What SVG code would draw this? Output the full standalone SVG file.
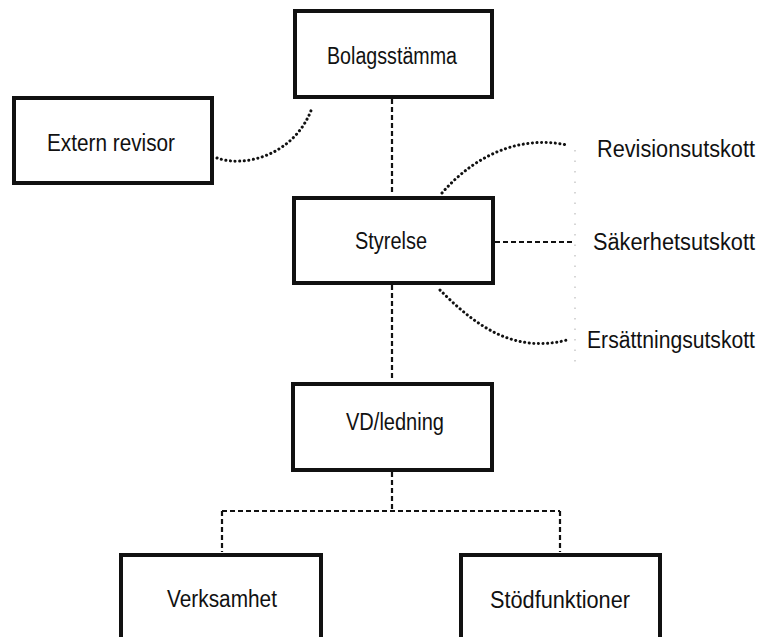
<svg xmlns="http://www.w3.org/2000/svg" width="765" height="637" viewBox="0 0 765 637">
<style>
  .box rect { fill: #fff; stroke: #111; stroke-width: 4; }
  text { font-family: "Liberation Sans", "DejaVu Sans", sans-serif; font-size: 23px; fill: #111; }
  .dash { fill: none; stroke: #111; stroke-width: 2.2; stroke-dasharray: 5 3; }
  .dot { fill: none; stroke: #111; stroke-width: 3; stroke-dasharray: 0.1 4.5; stroke-linecap: round; }
  .faint { fill: none; stroke: #bbb; stroke-width: 1.2; stroke-dasharray: 1.5 9; }
</style>
<rect x="0" y="0" width="765" height="637" fill="#fff"/>
<g id="connectors">
  <path class="faint" d="M575,150 L575,362"/>
  <path class="dash" d="M392,99 L392,195"/>
  <path class="dash" d="M392,285 L392,381"/>
  <path class="dash" d="M495,242 L575,242"/>
  <path class="dash" d="M392,472 L392,511 M222,511 L560,511 M222,511 L222,552 M560,511 L560,552"/>
  <path class="dot" d="M217,158 C245,168 295,155 312,108"/>
  <path class="dot" d="M442,193 C475,155 520,135 567,145"/>
  <path class="dot" d="M440,290 C470,320 510,355 567,340"/>
</g>
<g id="bolagsstamma" class="box">
  <rect x="295" y="11" width="197" height="86"/>
  <text x="392" y="64" text-anchor="middle" textLength="130" lengthAdjust="spacingAndGlyphs">Bolagsstämma</text>
</g>
<g id="extern-revisor" class="box">
  <rect x="14" y="98" width="198" height="85"/>
  <text x="111" y="151" text-anchor="middle" textLength="128" lengthAdjust="spacingAndGlyphs">Extern revisor</text>
</g>
<g id="styrelse" class="box">
  <rect x="294" y="198" width="199" height="85"/>
  <text x="391" y="249" text-anchor="middle" textLength="72" lengthAdjust="spacingAndGlyphs">Styrelse</text>
</g>
<g id="revisionsutskott">
  <text x="597" y="157" textLength="158" lengthAdjust="spacingAndGlyphs">Revisionsutskott</text>
</g>
<g id="sakerhetsutskott">
  <text x="593" y="250" textLength="162" lengthAdjust="spacingAndGlyphs">Säkerhetsutskott</text>
</g>
<g id="ersattningsutskott">
  <text x="587" y="348" textLength="168" lengthAdjust="spacingAndGlyphs">Ersättningsutskott</text>
</g>
<g id="vd-ledning" class="box">
  <rect x="293" y="384" width="199" height="86"/>
  <text x="395" y="430" text-anchor="middle" textLength="98" lengthAdjust="spacingAndGlyphs">VD/ledning</text>
</g>
<g id="verksamhet" class="box">
  <rect x="121" y="555" width="200" height="100"/>
  <text x="222" y="607" text-anchor="middle" textLength="110" lengthAdjust="spacingAndGlyphs">Verksamhet</text>
</g>
<g id="stodfunktioner" class="box">
  <rect x="461" y="555" width="199" height="100"/>
  <text x="560" y="608" text-anchor="middle" textLength="140" lengthAdjust="spacingAndGlyphs">Stödfunktioner</text>
</g>
</svg>
